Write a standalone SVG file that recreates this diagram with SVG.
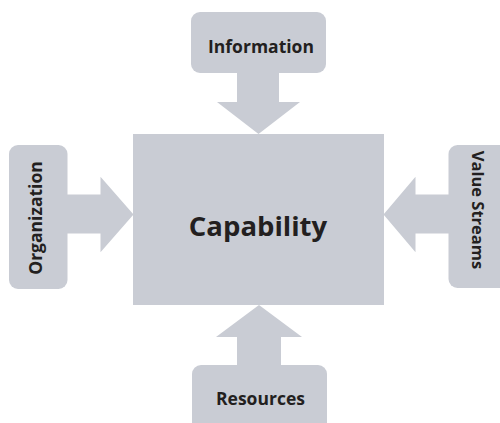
<svg xmlns="http://www.w3.org/2000/svg" width="500" height="423" viewBox="0 0 500 423">
<style>
.shape{fill:#c9ccd4;}
.lbl{font-family:"Open Sans","Liberation Sans",sans-serif;font-weight:bold;font-size:17.5px;fill:#231f20;text-anchor:middle;}
.big{font-size:27.5px;}
</style>
<rect x="0" y="0" width="500" height="423" fill="#ffffff"/>
<g id="connectors">
<polygon class="shape" points="237,73 279,73 279,102 300,102 258.5,134 217,102 237,102"/>
<polygon class="shape" points="67,194.5 100.5,194.5 100.5,176.7 133.5,214.5 100.5,252.3 100.5,233.5 67,233.5"/>
<polygon class="shape" points="449,194.5 415.5,194.5 415.5,176.7 383.5,214.5 415.5,252.3 415.5,233.5 449,233.5"/>
<polygon class="shape" points="237,366 281,366 281,337 302,337 259,305 216,337 237,337"/>
</g>
<g id="capability">
<rect class="shape" x="133" y="134" width="251" height="171"/>
<text class="lbl big" x="258" y="236">Capability</text>
</g>
<g id="information">
<rect class="shape" x="191" y="12" width="135" height="61" rx="9"/>
<text class="lbl" x="261" y="53">Information</text>
</g>
<g id="organization">
<rect class="shape" x="9" y="145" width="58.5" height="144" rx="9"/>
<text class="lbl" transform="translate(42,218) rotate(-90)">Organization</text>
</g>
<g id="value-streams">
<rect class="shape" x="448.5" y="145" width="65" height="143" rx="9"/>
<text class="lbl" style="font-size:16.5px" transform="translate(471.5,210) rotate(90)">Value Streams</text>
</g>
<g id="resources">
<rect class="shape" x="192" y="365" width="135" height="70" rx="9"/>
<text class="lbl" x="260.5" y="405">Resources</text>
</g>
</svg>
